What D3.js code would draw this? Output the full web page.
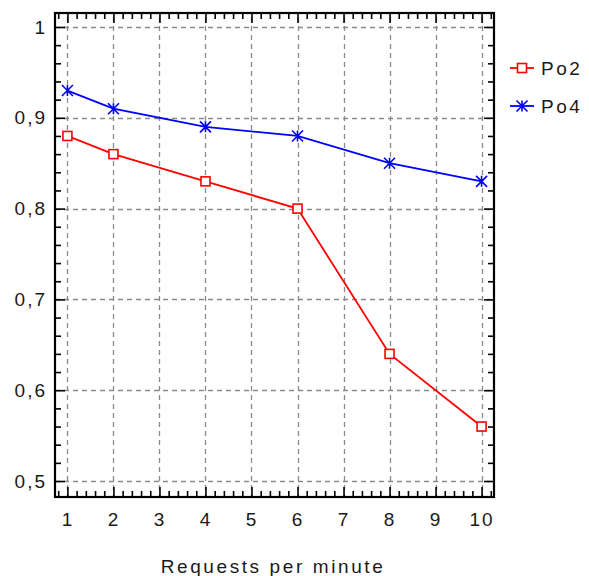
<!DOCTYPE html>
<html>
<head>
<meta charset="utf-8">
<script src="https://cdn.jsdelivr.net/npm/d3@7"></script>
<style>
  body { margin: 0; background: #fff; }
  text { font-family: "Liberation Sans", Arial, sans-serif; fill: #1a1a1a; }
</style>
</head>
<body>
<div id="chart"></div>
<script>
'use strict';

// data
const requests = [1, 2, 4, 6, 8, 10];
const po2 = [0.88, 0.86, 0.83, 0.80, 0.64, 0.56];
const po4 = [0.93, 0.91, 0.89, 0.88, 0.85, 0.83];
const xTicks = [1, 2, 3, 4, 5, 6, 7, 8, 9, 10];
const yTicks = [0.5, 0.6, 0.7, 0.8, 0.9, 1.0];
const seriesNames = ['Po2', 'Po4'];

const width = 589, height = 576;
const pLeft = 55, pRight = 494, pTop = 13, pBottom = 497;

const svg = d3.select('#chart').append('svg')
    .attr('width', width)
    .attr('height', height);

// ranges
const x = d3.scaleLinear().domain([0.73, 10.27]).range([pLeft, pRight]);
const y = d3.scaleLinear().domain([0.4824, 1.0154]).range([pBottom, pTop]);

const fmt = function(d){
    let s = d3.format('.1f')(d);
    if (s === '1.0') return '1';
    return s.replace('.', ',');
};

// minor tick positions
const xMinor = d3.range(4, 52).map(function(i){ return i / 5; })
    .filter(function(v){ return Math.abs(v - Math.round(v)) > 1e-6 && v > 0.75 && v < 10.25; });
const yMinor = d3.range(24, 51).map(function(i){ return i / 50; })
    .filter(function(v){ return Math.abs(v * 10 - Math.round(v * 10)) > 1e-6 && v > 0.484 && v < 1.014; });

// grid
const grid = svg.append('g')
    .attr('stroke', '#8a8a8a')
    .attr('stroke-width', 1.3)
    .attr('stroke-dasharray', '5,4');
grid.selectAll('line.v')
    .data(xTicks)
    .enter().append('line')
      .attr('class', 'v')
      .attr('x1', function(d){ return Math.round(x(d)) + 0.5; })
      .attr('x2', function(d){ return Math.round(x(d)) + 0.5; })
      .attr('y1', pTop + 4)
      .attr('y2', pBottom);
grid.selectAll('line.h')
    .data(yTicks)
    .enter().append('line')
      .attr('class', 'h')
      .attr('y1', function(d){ return Math.round(y(d)) + 0.5; })
      .attr('y2', function(d){ return Math.round(y(d)) + 0.5; })
      .attr('x1', pLeft)
      .attr('x2', pRight - 4);

// axes (ticks point inwards)
function styleAxis(g){
    g.select('.domain').remove();
    g.selectAll('.tick line').attr('stroke', '#000').attr('stroke-width', 1.6);
    g.selectAll('.tick text')
        .style('font-family', '"Liberation Sans", Arial, sans-serif')
        .style('font-size', '19px')
        .style('letter-spacing', '2px')
        .attr('fill', '#1a1a1a');
}

svg.append('g')
    .attr('transform', 'translate(0,' + pBottom + ')')
    .call(d3.axisBottom(x).tickValues(xTicks).tickSize(-10).tickPadding(16).tickFormat(d3.format('d')))
    .call(styleAxis);
svg.append('g')
    .attr('transform', 'translate(0,' + pBottom + ')')
    .call(d3.axisBottom(x).tickValues(xMinor).tickSize(-6).tickFormat(''))
    .call(styleAxis);
svg.append('g')
    .attr('transform', 'translate(0,' + pTop + ')')
    .call(d3.axisTop(x).tickValues(xTicks).tickSize(-10).tickFormat(''))
    .call(styleAxis);
svg.append('g')
    .attr('transform', 'translate(0,' + pTop + ')')
    .call(d3.axisTop(x).tickValues(xMinor).tickSize(-6).tickFormat(''))
    .call(styleAxis);

svg.append('g')
    .attr('transform', 'translate(' + pLeft + ',0)')
    .call(d3.axisLeft(y).tickValues(yTicks).tickSize(-10).tickPadding(8).tickFormat(fmt))
    .call(styleAxis);
svg.append('g')
    .attr('transform', 'translate(' + pLeft + ',0)')
    .call(d3.axisLeft(y).tickValues(yMinor).tickSize(-6).tickFormat(''))
    .call(styleAxis);
svg.append('g')
    .attr('transform', 'translate(' + pRight + ',0)')
    .call(d3.axisRight(y).tickValues(yTicks).tickSize(-10).tickFormat(''))
    .call(styleAxis);
svg.append('g')
    .attr('transform', 'translate(' + pRight + ',0)')
    .call(d3.axisRight(y).tickValues(yMinor).tickSize(-6).tickFormat(''))
    .call(styleAxis);

// frame
svg.append('rect')
    .attr('x', pLeft)
    .attr('y', pTop)
    .attr('width', pRight - pLeft)
    .attr('height', pBottom - pTop)
    .attr('fill', 'none')
    .attr('stroke', '#000')
    .attr('stroke-width', 2.2);

// marker shapes
function squareMarker(g, cx, cy, color){
    g.append('rect')
        .attr('x', cx - 4.5)
        .attr('y', cy - 4.5)
        .attr('width', 9)
        .attr('height', 9)
        .attr('fill', '#fff')
        .attr('stroke', color)
        .attr('stroke-width', 1.6);
}
function starMarker(g, cx, cy, color){
    let r = 5.5;
    g.append('path')
        .attr('d', 'M' + (cx - r) + ',' + (cy - r) + 'L' + (cx + r) + ',' + (cy + r) +
                   'M' + (cx - r) + ',' + (cy + r) + 'L' + (cx + r) + ',' + (cy - r) +
                   'M' + cx + ',' + (cy - r) + 'L' + cx + ',' + (cy + r))
        .attr('fill', 'none')
        .attr('stroke', color)
        .attr('stroke-width', 1.6);
}

const series = [
    { name: seriesNames[0], values: po2, color: '#ff0000', marker: squareMarker },
    { name: seriesNames[1], values: po4, color: '#0000ff', marker: starMarker }
];

const line = d3.line()
    .x(function(d){ return x(d[0]); })
    .y(function(d){ return y(d[1]); });

series.forEach(function(s){
    let pts = requests.map(function(r, i){ return [r, s.values[i]]; });
    let g = svg.append('g');
    g.append('path')
        .datum(pts)
        .attr('d', line)
        .attr('fill', 'none')
        .attr('stroke', s.color)
        .attr('stroke-width', 1.8);
    pts.forEach(function(p){
        s.marker(g, x(p[0]), y(p[1]), s.color);
    });
});

// legend
const legend = svg.append('g');
series.forEach(function(s, i){
    let ly = 68 + i * 38;
    let g = legend.append('g');
    g.append('line')
        .attr('x1', 510).attr('x2', 534)
        .attr('y1', ly).attr('y2', ly)
        .attr('stroke', s.color)
        .attr('stroke-width', 1.8);
    s.marker(g, 522, ly, s.color);
    g.append('text')
        .attr('x', 541)
        .attr('y', ly + 7)
        .style('font-size', '19px')
        .style('letter-spacing', '2.5px')
        .text(s.name);
});

// axis title
svg.append('text')
    .attr('x', 273)
    .attr('y', 573)
    .attr('text-anchor', 'middle')
    .style('font-size', '19px')
    .style('letter-spacing', '2.6px')
    .text('Requests per minute');
</script>
</body>
</html>
